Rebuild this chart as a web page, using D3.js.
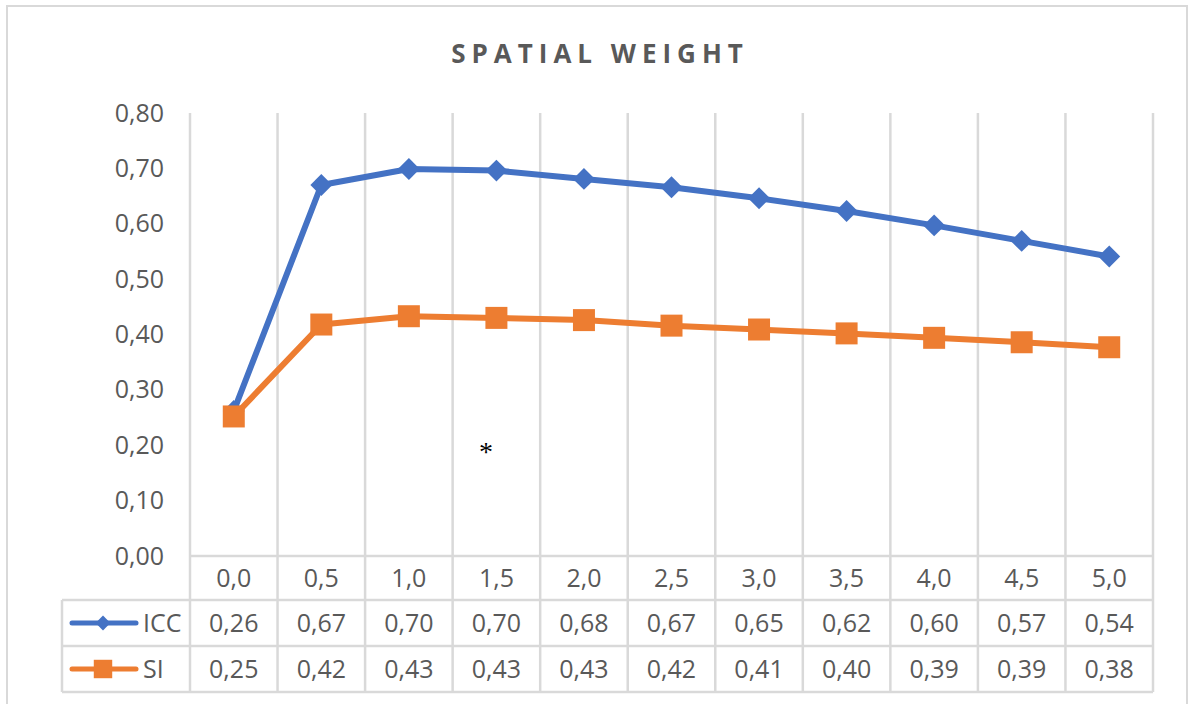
<!DOCTYPE html>
<html>
<head>
<meta charset="utf-8">
<script src="https://cdn.jsdelivr.net/npm/d3@7"></script>
<style>
  html, body { margin: 0; padding: 0; background: #fff; }
  svg { display: block; }
  text { font-family: "Open Sans", "Noto Sans", sans-serif; }
</style>
</head>
<body>
<svg id="chart" width="1189" height="704"></svg>
<script>
// ---- data ----
const title = "SPATIAL WEIGHT";
const categories = ["0,0","0,5","1,0","1,5","2,0","2,5","3,0","3,5","4,0","4,5","5,0"];
const seriesNames = ["ICC", "SI"];
const iccValues = [0.262, 0.670, 0.699, 0.696, 0.681, 0.666, 0.646, 0.623, 0.597, 0.569, 0.541];
const siValues  = [0.252, 0.418, 0.433, 0.430, 0.426, 0.416, 0.409, 0.402, 0.394, 0.386, 0.377];
const yTicks = [0, 0.1, 0.2, 0.3, 0.4, 0.5, 0.6, 0.7, 0.8];
const annotation = "*";

// ---- styles / layout ----
const colors = { ICC: "#4472C4", SI: "#ED7D31" };
const grid = "#d9d9d9";
const textCol = "#595959";
const plot = { left: 190, right: 1153, top: 113, bottom: 556 };
const table = { left: 62, rowH: [44, 46, 46] };
const fmt = v => v.toFixed(2).replace(".", ",");

const svg = d3.select("#chart");

// outer border
svg.append("rect").attr("x", 7).attr("y", 6).attr("width", 1180).attr("height", 720)
  .attr("fill", "#fff").attr("stroke", grid).attr("stroke-width", 2);

// title
svg.append("text").attr("x", 597 + 3).attr("y", 63)
  .attr("text-anchor", "middle")
  .style("font-size", "26px").style("font-weight", "bold")
  .style("letter-spacing", "6px").attr("fill", textCol)
  .text(title);

const x = d3.scaleBand().domain(categories).range([plot.left, plot.right]).paddingInner(0).paddingOuter(0);
const y = d3.scaleLinear().domain([0, 0.8]).range([plot.bottom, plot.top]);

const rowTop = [plot.bottom, plot.bottom + table.rowH[0], plot.bottom + table.rowH[0] + table.rowH[1]];
const tableBottom = rowTop[2] + table.rowH[2];

// vertical gridlines / table column lines
const edges = categories.map(c => x(c)).concat([plot.right]);
svg.append("g").selectAll("line").data(edges).join("line")
  .attr("x1", d => d).attr("x2", d => d)
  .attr("y1", plot.top).attr("y2", tableBottom)
  .attr("stroke", grid).attr("stroke-width", 2.5);

// horizontal table lines
svg.append("line").attr("x1", plot.left).attr("x2", plot.right)
  .attr("y1", rowTop[0]).attr("y2", rowTop[0]).attr("stroke", grid).attr("stroke-width", 2.5);
[rowTop[1], rowTop[2], tableBottom].forEach(yy => {
  svg.append("line").attr("x1", table.left).attr("x2", plot.right)
    .attr("y1", yy).attr("y2", yy).attr("stroke", grid).attr("stroke-width", 2.5);
});
svg.append("line").attr("x1", table.left).attr("x2", table.left)
  .attr("y1", rowTop[1]).attr("y2", tableBottom).attr("stroke", grid).attr("stroke-width", 2.5);

// y axis
const yAxis = d3.axisLeft(y).tickValues(yTicks).tickSize(0).tickPadding(26).tickFormat(fmt);
const gy = svg.append("g").attr("transform", `translate(${plot.left},0)`).call(yAxis);
gy.select(".domain").remove();
gy.selectAll("text").style("font-size", "25px").style("font-family", "'Open Sans', sans-serif").attr("fill", textCol);

// x axis (category row)
const xAxis = d3.axisBottom(x).tickSize(0).tickPadding(0);
const gx = svg.append("g").attr("transform", `translate(0,${rowTop[0]})`).call(xAxis);
gx.select(".domain").remove();
gx.selectAll("text").attr("dy", null).attr("y", 31)
  .style("font-size", "25px").style("font-family", "'Open Sans', sans-serif").attr("fill", textCol);

// series
const cx = c => x(c) + x.bandwidth() / 2;
const seriesData = [
  { name: "ICC", values: iccValues, symbol: d3.symbolSquare, size: 240, rot: 45 },
  { name: "SI", values: siValues, symbol: d3.symbolSquare, size: 484, rot: 0 }
];
const line = d3.line().x((d, i) => cx(categories[i])).y(d => y(d));

seriesData.forEach(s => {
  const g = svg.append("g");
  g.append("path").datum(s.values).attr("d", line)
    .attr("fill", "none").attr("stroke", colors[s.name]).attr("stroke-width", 6)
    .attr("stroke-linejoin", "round").attr("stroke-linecap", "round");
  g.selectAll("path.m").data(s.values).join("path").attr("class", "m")
    .attr("d", d3.symbol().type(s.symbol).size(s.size))
    .attr("transform", (d, i) => `translate(${cx(categories[i])},${y(d)}) rotate(${s.rot})`)
    .attr("fill", colors[s.name]);
});

// data table rows
seriesData.forEach((s, r) => {
  const top = rowTop[r + 1];
  const mid = top + table.rowH[r + 1] / 2;
  // legend key
  svg.append("line").attr("x1", 72).attr("x2", 136).attr("y1", mid).attr("y2", mid)
    .attr("stroke", colors[s.name]).attr("stroke-width", 5).attr("stroke-linecap", "round");
  svg.append("path")
    .attr("d", d3.symbol().type(s.symbol).size(r === 0 ? 110 : 340))
    .attr("transform", `translate(103,${mid}) rotate(${s.rot})`)
    .attr("fill", colors[s.name]);
  svg.append("text").attr("x", 143).attr("y", mid + 9)
    .style("font-size", "25px").attr("fill", textCol).text(s.name);
  svg.append("g").selectAll("text").data(s.values).join("text")
    .attr("x", (d, i) => cx(categories[i])).attr("y", mid + 9)
    .attr("text-anchor", "middle").style("font-size", "25px").attr("fill", textCol)
    .text(d => fmt(d));
});

// annotation
svg.append("text").attr("x", 486).attr("y", 461).attr("text-anchor", "middle")
  .style("font-family", "'Liberation Serif', serif").style("font-size", "28px").attr("fill", "#000")
  .text(annotation);
</script>
</body>
</html>
